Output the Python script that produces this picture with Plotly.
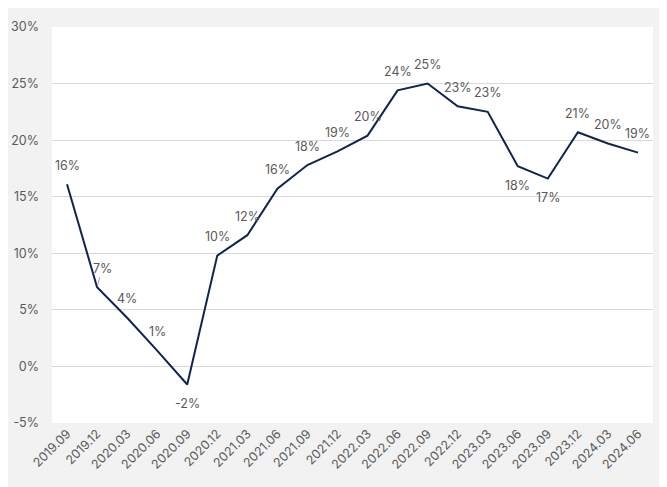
import plotly.graph_objects as go

TINTA = "#595959"
LINHA = "#0E2452"
GRADE = "#D9D9D9"

periodos = ["2019.09", "2019.12", "2020.03", "2020.06", "2020.09", "2020.12",
            "2021.03", "2021.06", "2021.09", "2021.12", "2022.03", "2022.06",
            "2022.09", "2022.12", "2023.03", "2023.06", "2023.09", "2023.12",
            "2024.03", "2024.06"]
valores = [16.1, 7.0, 4.3, 1.4, -1.6, 9.8, 11.6, 15.7, 17.8, 19.0, 20.4, 24.4,
           25.0, 23.0, 22.5, 17.7, 16.6, 20.7, 19.7, 18.9]
rotulos = ["16%", "7%", "4%", "1%", "-2%", "10%", "12%", "16%", "18%", "19%",
           "20%", "24%", "25%", "23%", "23%", "18%", "17%", "21%", "20%", "19%"]
# rótulo acima (1) ou abaixo (-1) do ponto
lado = [1, 1, 1, 1, -1, 1, 1, 1, 1, 1, 1, 1, 1, 1, 1, -1, -1, 1, 1, 1]
y_ticks = [-5, 0, 5, 10, 15, 20, 25, 30]
y_tick_txt = ["-5%", "0%", "5%", "10%", "15%", "20%", "25%", "30%"]

fig = go.Figure()
fig.add_trace(go.Scatter(
    x=periodos, y=valores, mode="lines",
    line=dict(color=LINHA, width=2),
    showlegend=False, hoverinfo="x+y",
))

# em eixo de categoria a anotação usa o índice da categoria
for i, (v, t, s) in enumerate(zip(valores, rotulos, lado)):
    if t == "7%":
        # rótulo deslocado com linha guia, como no original
        fig.add_annotation(x=i, y=v, text=t, showarrow=True, arrowhead=0,
                           arrowwidth=1, arrowcolor="#A6A6A6", ax=5, ay=-19,
                           standoff=2, font=dict(size=12.5, color=TINTA))
    else:
        fig.add_annotation(x=i, y=v, text=t, showarrow=False, yshift=19 * s,
                           font=dict(size=12.5, color=TINTA))

fig.update_layout(
    width=667, height=487,
    paper_bgcolor="#F2F2F2", plot_bgcolor="#FFFFFF",
    font=dict(family="Inter", color=TINTA, size=12.5),
    margin=dict(l=44, r=22, t=19, b=72),
    xaxis=dict(type="category", tickangle=-45, showgrid=False, showline=False,
               ticks="", tickfont=dict(size=12.5, color=TINTA), zeroline=False,
               automargin=False, range=[-0.5, len(periodos) - 0.5]),
    yaxis=dict(range=[-5, 30], tickvals=y_ticks, ticktext=y_tick_txt,
               showgrid=True, gridcolor=GRADE, gridwidth=1, zeroline=False,
               showline=False, ticks="", ticklabelstandoff=12, automargin=False,
               tickfont=dict(size=12.5, color=TINTA)),
)

fig.write_html("out.html")
